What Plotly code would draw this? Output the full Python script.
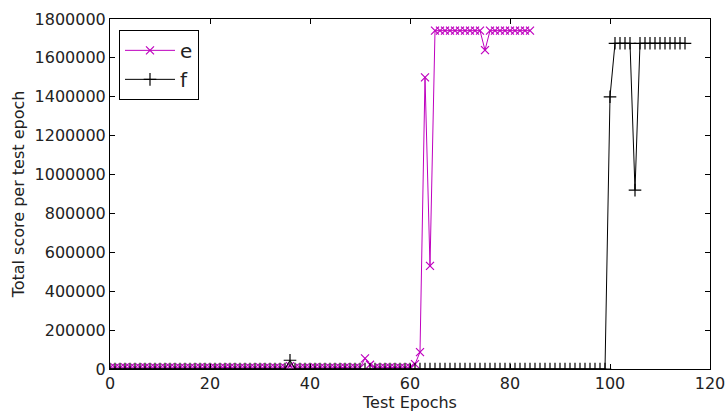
import plotly.graph_objects as go

# ---- data ----
epochs_e = list(range(0, 85))
score_e = [
    6000, 7000, 6000, 8000, 7000, 6000, 7000, 8000, 6000, 7000,
    6000, 7000, 8000, 6000, 7000, 6000, 7000, 6000, 8000, 7000,
    6000, 7000, 6000, 7000, 8000, 6000, 7000, 6000, 7000, 6000,
    8000, 7000, 6000, 7000, 6000, 7000, 15000, 7000, 6000, 7000,
    6000, 8000, 7000, 6000, 7000, 6000, 7000, 8000, 6000, 7000,
    6000, 55000, 22000, 7000, 6000, 7000, 8000, 6000, 7000, 6000,
    8000, 25000, 87000, 1500000, 530000, 1740000, 1740000, 1740000, 1740000, 1740000,
    1740000, 1740000, 1740000, 1740000, 1740000, 1640000, 1740000, 1740000, 1740000, 1740000,
    1740000, 1740000, 1740000, 1740000, 1740000,
]
epochs_f = list(range(0, 116))
score_f = [
    0, 0, 0, 0, 0, 0, 0, 0, 0, 0,
    0, 0, 0, 0, 0, 0, 0, 0, 0, 0,
    0, 0, 0, 0, 0, 0, 0, 0, 0, 0,
    0, 0, 0, 0, 0, 0, 45000, 0, 0, 0,
    0, 0, 0, 0, 0, 0, 0, 0, 0, 0,
    0, 0, 0, 0, 0, 0, 0, 0, 0, 0,
    0, 0, 0, 0, 0, 0, 0, 0, 0, 0,
    0, 0, 0, 0, 0, 0, 0, 0, 0, 0,
    0, 0, 0, 0, 0, 0, 0, 0, 0, 0,
    0, 0, 0, 0, 0, 0, 0, 0, 0, 0,
    1400000, 1675000, 1675000, 1675000, 1675000, 920000, 1675000, 1675000, 1675000, 1675000,
    1675000, 1675000, 1675000, 1675000, 1675000, 1675000,
]
x_ticks = [0, 20, 40, 60, 80, 100, 120]
y_ticks = [0, 200000, 400000, 600000, 800000, 1000000, 1200000, 1400000, 1600000, 1800000]

FONT = "DejaVu Sans"
MAG = "#bf00bf"
TXT = "#222"

fig = go.Figure()
fig.add_trace(go.Scatter(
    x=epochs_e, y=score_e, name="e", mode="lines+markers",
    line=dict(color=MAG, width=1),
    marker=dict(symbol="x-thin-open", size=8, line=dict(color=MAG, width=1.2), color=MAG),
))
fig.add_trace(go.Scatter(
    x=epochs_f, y=score_f, name="f", mode="lines+markers",
    line=dict(color="black", width=1),
    marker=dict(symbol="cross-thin-open", size=9, line=dict(color="black", width=1.2), color="black"),
))

axis_common = dict(
    showline=True, linecolor="black", linewidth=1, mirror="ticks",
    ticks="inside", ticklen=5, tickwidth=1, tickcolor="black",
    showgrid=False, zeroline=False,
    tickfont=dict(family=FONT, size=16, color=TXT),
)
fig.update_xaxes(
    range=[0, 120], tickvals=x_ticks, ticktext=[str(v) for v in x_ticks],
    title=dict(text="Test Epochs", font=dict(family=FONT, size=16, color=TXT), standoff=2),
    **axis_common,
)
fig.update_yaxes(
    range=[0, 1800000], tickvals=y_ticks, ticktext=[str(v) for v in y_ticks],
    title=dict(text="Total score per test epoch", font=dict(family=FONT, size=16, color=TXT), standoff=5),
    **axis_common,
)
fig.update_layout(
    width=728, height=412,
    margin=dict(l=110, r=18, t=19, b=43, autoexpand=False),
    paper_bgcolor="white", plot_bgcolor="white",
    font=dict(family=FONT, size=16, color=TXT),
    showlegend=True,
    legend=dict(
        x=0.015, y=0.969, xanchor="left", yanchor="top",
        bgcolor="white", bordercolor="black", borderwidth=1,
        font=dict(family=FONT, size=20, color=TXT),
        itemwidth=50, tracegroupgap=0,
    ),
)
fig.write_html("out.html")
